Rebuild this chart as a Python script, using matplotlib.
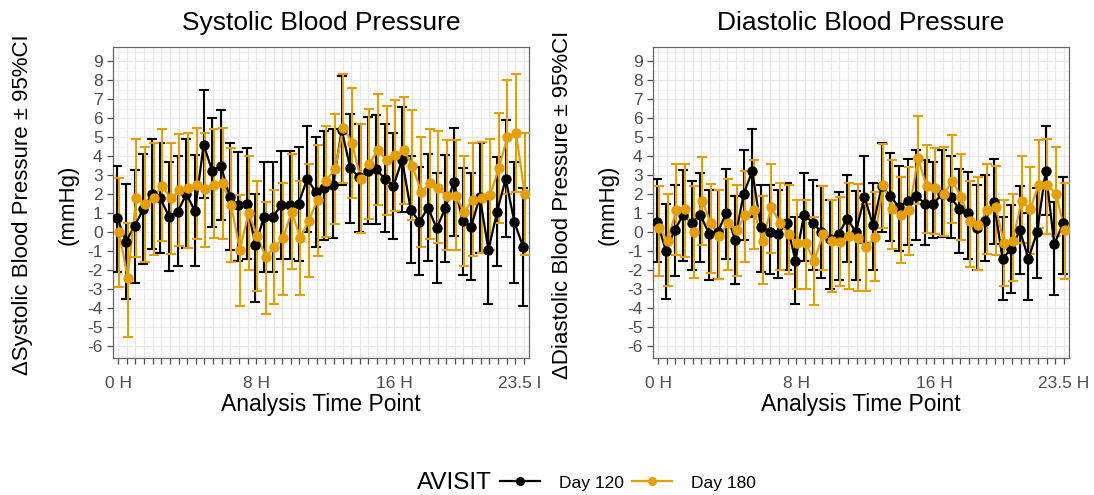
import numpy as np
import matplotlib
matplotlib.use("Agg")
import matplotlib.pyplot as plt
from matplotlib.lines import Line2D
from matplotlib.transforms import Bbox

plt.rcParams['font.family'] = ['Liberation Sans', 'DejaVu Sans']
plt.rcParams['axes.unicode_minus'] = False

# time points (categories, every half hour)
hours = np.arange(0, 24, 0.5)
tick_hours = [0, 8, 16, 23.5]
tick_labels = ["0 H", "8 H", "16 H", "23.5 H"]

# Systolic, Day 120
sbp_d120_mean = [0.75, -0.5, 0.3, 1.2, 2.0, 1.77, 0.8, 1.07, 2.0, 1.1, 4.6, 3.2, 3.5, 1.86, 1.4, 1.5,
                 -0.68, 0.8, 0.8, 1.4, 1.4, 1.5, 2.8, 2.1, 2.3, 2.5, 5.37, 3.35, 2.9, 3.2, 3.3, 2.8,
                 2.44, 3.8, 1.16, 0.54, 1.28, 0.2, 1.25, 2.65, 0.58, 0.28, 1.86, -0.95, 1.07, 2.8, 0.54, -0.77]
sbp_d120_hi = [3.5, 2.55, 3.25, 4.1, 4.9, 4.7, 3.7, 4.0, 4.9, 4.05, 7.47, 6.0, 6.4, 4.7, 4.2, 4.4,
               2.0, 3.7, 3.7, 4.26, 4.26, 4.5, 5.6, 5.0, 5.3, 5.4, 8.2, 6.2, 5.7, 6.07, 6.16, 5.67,
               5.2, 6.6, 4.0, 3.4, 4.1, 3.1, 4.05, 5.5, 3.35, 3.1, 4.7, 1.95, 3.96, 5.9, 3.67, 2.33]
sbp_d120_lo = [-2.1, -3.5, -2.7, -1.7, -0.9, -1.1, -2.05, -1.8, -0.86, -1.8, 1.77, 0.28, 0.63, -0.95, -1.5, -1.4,
               -3.7, -2.1, -2.1, -1.4, -1.4, -1.5, 0.0, -0.8, -0.4, -0.33, 2.5, 0.5, 0.0, 0.4, 0.4, 0.0,
               -0.37, 1.07, -1.65, -2.26, -1.5, -2.7, -1.56, -0.2, -2.26, -2.5, -1.1, -3.8, -1.8, -0.25, -2.7, -3.9]

# Systolic, Day 180
sbp_d180_mean = [0.0, -2.4, 1.8, 1.45, 1.8, 2.44, 1.77, 2.2, 2.3, 2.5, 2.26, 2.5, 2.56, 1.4, -0.95, 1.0,
                 -0.2, -1.3, -0.8, -0.33, 1.07, -0.3, 0.6, 1.7, 2.7, 3.3, 5.5, 4.7, 2.8, 3.6, 4.3, 3.8,
                 4.05, 4.3, 3.5, 2.1, 2.56, 2.3, 1.9, 1.9, 1.07, 1.7, 1.8, 1.95, 3.35, 5.0, 5.2, 2.0]
sbp_d180_hi = [2.86, 0.5, 4.9, 4.5, 4.7, 5.4, 4.67, 5.14, 5.2, 5.5, 5.2, 5.4, 5.5, 4.4, 1.95, 4.0,
               2.7, 1.6, 2.2, 2.6, 4.1, 2.7, 3.6, 4.6, 5.6, 6.2, 8.3, 7.6, 5.7, 6.5, 7.25, 6.65,
               6.95, 7.1, 6.4, 5.0, 5.4, 5.3, 4.85, 4.85, 4.0, 4.67, 4.75, 4.9, 6.25, 8.0, 8.3, 5.2]
sbp_d180_lo = [-2.9, -5.5, -1.3, -1.56, -1.2, -0.46, -1.15, -0.74, -0.86, -0.37, -0.77, -0.33, -0.37, -1.56, -3.9, -2.0,
               -3.1, -4.3, -3.8, -3.3, -1.95, -3.3, -2.35, -1.25, -0.25, 0.4, 2.6, 1.8, -0.05, 0.7, 1.4, 0.9,
               1.1, 1.5, 0.63, -0.8, -0.37, -0.6, -0.95, -0.95, -1.8, -1.25, -1.1, -0.95, 0.46, 2.0, 2.1, -1.2]

# Diastolic, Day 120
dbp_d120_mean = [0.53, -1.0, 0.1, 0.9, 0.5, 0.9, -0.1, 0.0, 1.0, -0.4, 2.0, 3.2, 0.26, 0.0, -0.1, 0.47,
                 -1.5, 0.9, 0.5, 0.0, -0.35, -0.1, 0.7, 0.0, 1.85, 0.35, 2.4, 1.9, 1.3, 1.65, 1.9, 1.5,
                 1.5, 2.0, 1.85, 1.2, 1.0, 0.2, 0.6, 1.6, -1.4, -0.9, 0.1, -1.4, 0.0, 3.2, -0.65, 0.45]
dbp_d120_hi = [2.8, 1.45, 2.45, 3.25, 2.7, 3.1, 2.2, 2.2, 3.3, 1.9, 4.3, 5.4, 2.5, 2.5, 2.2, 2.6,
               0.8, 3.1, 2.75, 2.4, 1.7, 2.1, 3.0, 2.15, 4.0, 2.6, 4.7, 4.15, 3.5, 3.85, 4.3, 3.8,
               3.7, 4.3, 4.0, 3.3, 3.15, 2.5, 3.0, 3.85, 0.8, 1.4, 2.4, 1.0, 2.3, 5.6, 1.6, 2.9]
dbp_d120_lo = [-1.6, -3.5, -2.3, -1.5, -2.0, -1.6, -2.5, -2.45, -1.4, -2.75, -0.4, 0.8, -2.1, -2.2, -2.4, -2.0,
               -3.8, -1.5, -2.0, -2.4, -3.0, -2.5, -1.6, -2.5, -0.6, -2.0, 0.0, -0.45, -1.0, -0.7, -0.4, -0.7,
               -0.3, -0.25, -0.3, -1.1, -1.4, -2.0, -1.5, -0.65, -3.6, -3.2, -2.2, -3.6, -2.4, 0.9, -3.3, -2.2]

# Diastolic, Day 180
dbp_d180_mean = [0.2, -0.45, 1.15, 1.2, 0.0, 1.65, 0.45, -0.2, 0.5, 0.1, 0.9, 1.15, -0.45, 1.3, 0.5, -0.1,
                 -0.6, -0.6, -1.5, -0.1, -0.45, -0.5, -0.2, -0.3, -0.8, -0.25, 2.5, 1.2, 0.9, 1.15, 3.9, 2.4,
                 2.3, 2.0, 2.7, 1.85, 0.6, 0.35, 1.15, 1.3, -0.6, -0.45, 1.65, 1.2, 2.5, 2.5, 2.0, 0.1]
dbp_d180_hi = [2.4, 2.0, 3.6, 3.6, 2.4, 3.95, 2.55, 2.2, 2.8, 2.45, 3.2, 3.8, 1.9, 3.6, 2.6, 2.45,
               1.7, 1.7, 0.8, 2.4, 1.7, 1.85, 2.6, 2.55, 1.5, 2.1, 4.65, 3.8, 2.9, 3.4, 6.1, 4.6,
               4.4, 4.5, 5.1, 4.1, 2.7, 2.9, 3.6, 3.5, 1.7, 2.0, 4.0, 3.4, 4.85, 4.9, 4.5, 2.6]
dbp_d180_lo = [-2.3, -2.85, -1.2, -1.3, -2.4, -0.7, -2.15, -2.45, -2.0, -2.3, -1.6, -0.9, -2.75, -1.1, -2.0, -2.2,
               -3.0, -3.0, -3.85, -2.0, -3.15, -2.85, -3.0, -3.1, -3.1, -2.6, 0.2, -0.9, -1.65, -1.2, 1.5, -0.05,
               -0.1, -0.2, 0.45, -0.4, -1.85, -2.0, -1.15, -1.2, -2.85, -2.6, -0.6, -1.15, 0.2, -0.1, -0.2, -2.45]

C120 = 'black'
C180 = '#E69F00'
DODGE = 0.05  # small horizontal dodge between the two visits (hours)


def draw_panel(ax, d120, d180, title):
    groups = [(d120, C120, -DODGE), (d180, C180, DODGE)]
    for (mean, lo, hi), col, dx in groups:
        mean, lo, hi = np.array(mean), np.array(lo), np.array(hi)
        ax.errorbar(hours + dx, mean, yerr=[mean - lo, hi - mean], fmt='none',
                    ecolor=col, elinewidth=1.5, capsize=3.3, capthick=1.5, zorder=3)
    for (mean, lo, hi), col, dx in groups:
        ax.plot(hours + dx, mean, color=col, lw=1.6, zorder=4)
    for (mean, lo, hi), col, dx in groups:
        ax.plot(hours + dx, mean, 'o', color=col, ms=6.5, zorder=5)

    ax.set_xlim(-0.3, 23.8)
    ax.set_ylim(-6.63, 9.74)
    ax.set_yticks(range(-6, 10))
    ax.set_yticks(np.arange(-6.5, 10, 1), minor=True)
    ax.set_xticks(hours)
    ax.set_xticklabels([tick_labels[tick_hours.index(h)] if h in tick_hours else '' for h in hours])
    ax.grid(True, which='major', color='#E8E8E8', lw=0.9)
    ax.grid(True, which='minor', axis='y', color='#F0F0F0', lw=0.6)
    ax.set_axisbelow(True)
    ax.tick_params(axis='both', which='major', colors='#4D4D4D', labelsize=12.5, length=4, width=0.9)
    ax.tick_params(axis='y', which='major', pad=3.5)
    ax.tick_params(axis='x', which='major', pad=9)
    ax.tick_params(axis='y', which='minor', length=0)
    for sp in ax.spines.values():
        sp.set_color('#666666')
        sp.set_linewidth(0.9)
    ax.set_title(title, fontsize=19, pad=12)
    ax.set_xlabel('Analysis Time Point', fontsize=16.5, labelpad=1.5)


fig = plt.figure(figsize=(10.94, 4.95), dpi=100)
ax1 = fig.add_axes([113 / 1094, 1 - 358 / 495, 416 / 1094, 311 / 495])
ax2 = fig.add_axes([653 / 1094, 1 - 358 / 495, 416 / 1094, 311 / 495])

draw_panel(ax1, (sbp_d120_mean, sbp_d120_lo, sbp_d120_hi),
           (sbp_d180_mean, sbp_d180_lo, sbp_d180_hi), 'Systolic Blood Pressure')
draw_panel(ax2, (dbp_d120_mean, dbp_d120_lo, dbp_d120_hi),
           (dbp_d180_mean, dbp_d180_lo, dbp_d180_hi), 'Diastolic Blood Pressure')

# two-line y titles
ymid = 1 - 205 / 495
fig.text(23 / 1094, ymid, '\u0394Systolic Blood Pressure \u00b1 95%CI', rotation=90,
         ha='center', va='center', fontsize=16)
fig.text(68 / 1094, ymid, '(mmHg)', rotation=90, ha='center', va='center', fontsize=16)
fig.text(563 / 1094, ymid, '\u0394Diastolic Blood Pressure \u00b1 95%CI', rotation=90,
         ha='center', va='center', fontsize=16)
fig.text(608 / 1094, ymid, '(mmHg)', rotation=90, ha='center', va='center', fontsize=16)

# legend at bottom
fig.text(417 / 1094, 1 - 483 / 495, 'AVISIT', ha='left', va='center', fontsize=17.5)
handles = [Line2D([], [], color=C120, marker='o', ms=5.5, lw=1.6),
           Line2D([], [], color=C180, marker='o', ms=5.5, lw=1.6)]
fig.legend(handles, ['Day 120', 'Day 180'], ncol=2, frameon=False, fontsize=12.5,
           loc='center left', bbox_to_anchor=(500 / 1094, 1 - 483 / 495), borderpad=0,
           borderaxespad=0, handlelength=2.3, handletextpad=1.1, columnspacing=0.45)

# the last x label of the left panel is cut off at the panel edge (H partly shown)
fig.canvas.draw()
renderer = fig.canvas.get_renderer()
for lab in ax1.get_xticklabels():
    if lab.get_text() == '23.5 H':
        ext = lab.get_window_extent(renderer)
        probe = fig.text(0, 0, '23.5 ', fontsize=12.5)
        w = probe.get_window_extent(renderer).width
        probe.remove()
        lab.set_clip_box(Bbox.from_extents(0, 0, ext.x0 + w + 3, 495))
        lab.set_clip_on(True)

fig.savefig('out.png', dpi=100, facecolor='white')
